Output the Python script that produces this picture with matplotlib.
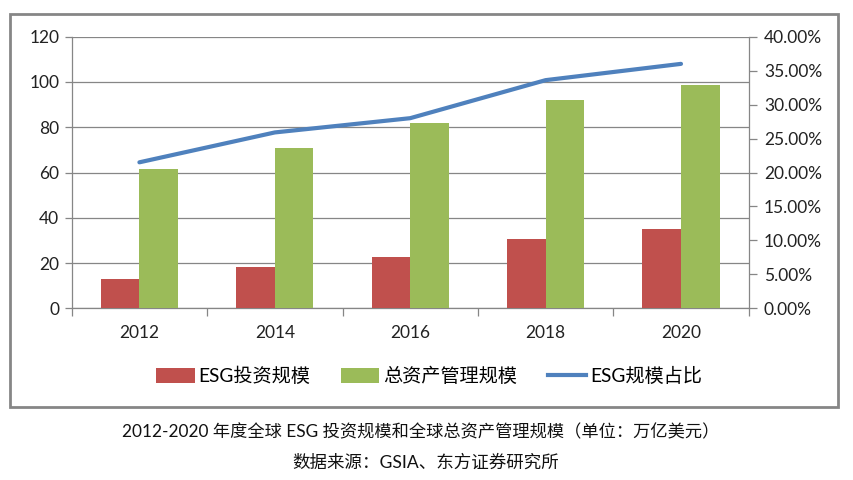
import matplotlib
matplotlib.use("Agg")
import matplotlib.pyplot as plt
from matplotlib.patches import Rectangle, Patch
from matplotlib.lines import Line2D
from matplotlib.ticker import FuncFormatter, FixedLocator

plt.rcParams['font.family'] = ['Lato', 'Noto Sans CJK SC', 'DejaVu Sans']

years = ['2012', '2014', '2016', '2018', '2020']
esg_invest = [13.0, 18.4, 22.7, 30.6, 35.0]
total_aum = [61.6, 71.0, 81.9, 92.0, 98.7]
esg_ratio = [0.215, 0.259, 0.280, 0.336, 0.360]
series_names = ['ESG投资规模', '总资产管理规模', 'ESG规模占比']
caption = '2012-2020 年度全球 ESG 投资规模和全球总资产管理规模（单位：万亿美元）'
source = '数据来源：GSIA、东方证券研究所'

W, H = 854, 480
fig = plt.figure(figsize=(W / 100, H / 100), dpi=100)

def fx(px):
    return px / W

def fy(py):
    return 1 - py / H

red, green, blue = '#C0504D', '#9BBB59', '#4F81BD'
grey = '#868686'

# outer chart box
fig.patches.append(Rectangle((fx(10), fy(407)), fx(838) - fx(10), fy(14) - fy(407),
                             transform=fig.transFigure, fill=False,
                             edgecolor=grey, linewidth=2.0))

left, right, top, bottom = 71.7, 748.7, 36.7, 308.3
ax = fig.add_axes([fx(left), fy(bottom), fx(right) - fx(left), fy(top) - fy(bottom)])
x = list(range(len(years)))
w = 0.285
ax.bar([i - w / 2 for i in x], esg_invest, width=w, color=red, zorder=3)
ax.bar([i + w / 2 for i in x], total_aum, width=w, color=green, zorder=3)
ax.set_xlim(-0.5, len(years) - 0.5)
ax.set_ylim(0, 120)
ax.set_yticks(range(0, 121, 20))
ax.yaxis.grid(True, color=grey, linewidth=0.9, zorder=0)
ax.set_xticks(x)
ax.set_xticklabels(years)
ax.xaxis.set_minor_locator(FixedLocator([i + 0.5 for i in range(-1, len(years))]))
ax.tick_params(axis='x', which='major', length=0, pad=12, labelsize=12.5, labelcolor='#222222')
ax.tick_params(axis='x', which='minor', length=6, color=grey, width=0.9)
ax.tick_params(axis='y', length=5, color=grey, width=0.9, labelsize=12.5, labelcolor='#222222', pad=4)
for s in ['top', 'right']:
    ax.spines[s].set_visible(False)
for s in ['left', 'bottom']:
    ax.spines[s].set_color(grey)
    ax.spines[s].set_linewidth(0.9)

ax2 = ax.twinx()
ax2.plot(x, esg_ratio, color=blue, linewidth=3.0, solid_capstyle='round', zorder=4)
ax2.set_ylim(0, 0.4)
ax2.set_yticks([i * 0.05 for i in range(9)])
ax2.yaxis.set_major_formatter(FuncFormatter(lambda v, p: f'{v * 100:.2f}%'))
ax2.tick_params(axis='y', length=6, color=grey, width=0.9, labelsize=12.5, labelcolor='#222222', pad=5)
for s in ['top', 'left', 'bottom']:
    ax2.spines[s].set_visible(False)
ax2.spines['right'].set_color(grey)
ax2.spines['right'].set_linewidth(0.9)

handles = [Patch(facecolor=red, edgecolor='none'),
           Patch(facecolor=green, edgecolor='none'),
           Line2D([0], [0], color=blue, linewidth=3.0)]
fig.legend(handles, series_names, loc='center', bbox_to_anchor=(fx(429), fy(376)),
           ncol=3, frameon=False, fontsize=13.8, handlelength=2.0, handleheight=0.75,
           handletextpad=0.2, columnspacing=1.6)

fig.text(fx(421), fy(432), caption, ha='center', va='center', fontsize=12.4, color='#111111')
fig.text(fx(426), fy(463), source, ha='center', va='center', fontsize=12.6, color='#111111')

fig.savefig('out.png', dpi=100)
